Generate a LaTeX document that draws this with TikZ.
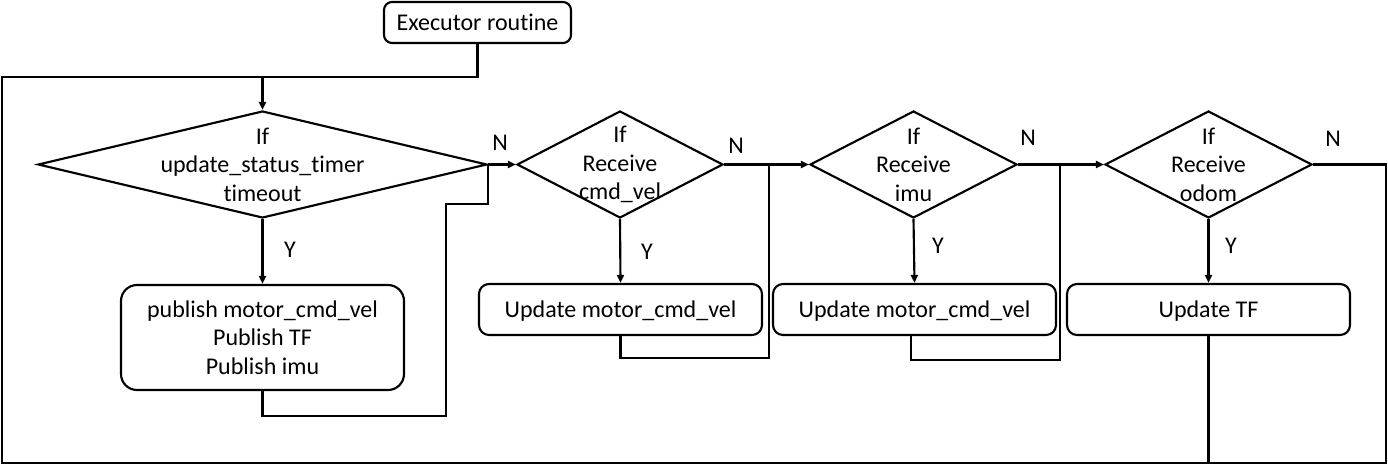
\documentclass[tikz,border=0pt]{standalone}
\usepackage{fontspec}
\setmainfont{Carlito}[Ligatures=NoCommon]
\usetikzlibrary{shapes.geometric,arrows.meta}
\newdimen\px \px=0.75pt
\newcommand{\fs}{\fontsize{18}{21.4}\selectfont}
\begin{document}
\begin{tikzpicture}[x=0.75pt,y=-0.75pt,line width=1.6pt,
  box/.style={draw,rectangle,rounded corners=10\px,minimum width=283\px,minimum height=51\px,inner sep=0pt,font=\fs,align=center},
  onebox/.style={box,text height=20\px,text depth=3\px},
  dia/.style={draw,diamond,inner sep=0pt,minimum height=107\px},
  txt/.style={font=\fs,align=center,inner sep=0pt},
  arr/.style={-{Triangle[length=6pt,width=5.25pt]}}]
\useasboundingbox (0,0) rectangle (1388,466);
% nodes
\node[onebox,minimum width=187\px,minimum height=41\px,rounded corners=8\px] (exec) at (477.5,22.5) {Executor routine};
\node[dia,minimum width=449\px] (d1) at (262.5,164.5) {};
\node[txt] (t1) at (d1.center) {If\\update\_status\_timer\\timeout};
\node[dia,minimum width=206\px] (d2) at (620,164.5) {};
\node[txt] (t2) at (d2.center) {If\\Receive\\cmd\_vel};
\node[dia,minimum width=207\px] (d3) at (913.5,164.5) {};
\node[txt] (t3) at (d3.center) {If\\Receive\\imu};
\node[dia,minimum width=207\px] (d4) at (1208.5,164.5) {};
\node[txt] (t4) at (d4.center) {If\\Receive\\odom};
\node[box,minimum height=105\px,rounded corners=16\px] (b1) at (262.5,337.5) {publish motor\_cmd\_vel\\Publish TF\\Publish imu};
\node[onebox] (b2) at (620.5,309.5) {Update motor\_cmd\_vel};
\node[onebox] (b3) at (914.5,309.5) {Update motor\_cmd\_vel};
\node[onebox] (b4) at (1208.5,309.5) {Update TF};
% labels
\node[txt] (n1) at (500,143) {N};
\node[txt] (n2) at (736,146) {N};
\node[txt] (n3) at (1028,138) {N};
\node[txt] (n4) at (1333,139) {N};
\node[txt] (y1) at (290,250) {Y};
\node[txt] (y2) at (647,252) {Y};
\node[txt] (y3) at (938,246) {Y};
\node[txt] (y4) at (1231,246) {Y};
% coordinates
\coordinate (tl) at (2,77);
\coordinate (bl) at (2,463);
\coordinate (br) at (1386,463);
\coordinate (tr) at (1386,164.5);
\coordinate (r1a) at (446,416);
\coordinate (r1b) at (446,204);
\coordinate (r2a) at (769,358);
\coordinate (r2b) at (769,164.5);
\coordinate (r3s) at (911,335);
\coordinate (r3a) at (1060,360);
\coordinate (r3b) at (1060,166);
% connectors
\draw (d4.east) -- (tr) -- (br) -- (bl) -- (tl) -| (exec.south);
\draw[arr] (d1.north |- tl) -- (d1.north);
\draw[arr] (d1.south) -- (b1.north);
\draw[arr] (d2.south) -- (b2.north);
\draw[arr] (d3.south) -- (b3.north);
\draw[arr] (d4.south) -- (b4.north);
\draw[arr] (d1.east) -- (d2.west);
\draw[arr] (d2.east) -- (d3.west);
\draw[arr] (d3.east) -- (d4.west);
\draw (b1.south) |- (r1a) -- (r1b) -| (d1.east);
\draw (b2.south) |- (r2a) -- (r2b);
\draw (r3s |- b3.south) |- (r3a) -- (r3b);
\draw (b4.south) -- (b4.south |- bl);
\end{tikzpicture}
\end{document}
